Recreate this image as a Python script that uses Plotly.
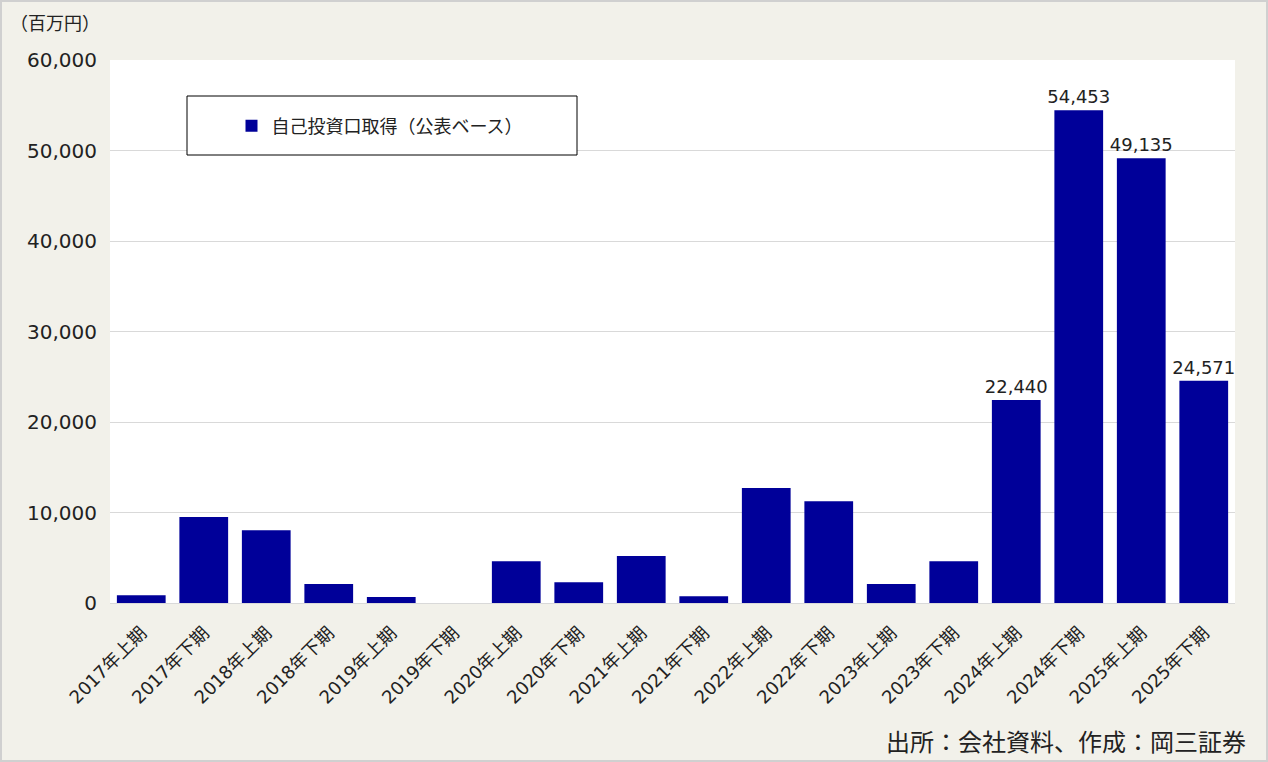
import plotly.graph_objects as go

categories = ["2017年上期", "2017年下期", "2018年上期", "2018年下期", "2019年上期", "2019年下期",
              "2020年上期", "2020年下期", "2021年上期", "2021年下期", "2022年上期", "2022年下期",
              "2023年上期", "2023年下期", "2024年上期", "2024年下期", "2025年上期", "2025年下期"]
values = [850, 9500, 8050, 2100, 650, 0,
          4600, 2300, 5200, 750, 12700, 11250,
          2100, 4600, 22440, 54453, 49135, 24571]
labeled = [False] * 14 + [True] * 4
series_name = "自己投資口取得（公表ベース）"
unit_label = "（百万円）"
source_text = "出所：会社資料、作成：岡三証券"

FONT = "Noto Sans CJK JP, Noto Sans, sans-serif"
NUMFONT = "DejaVu Sans, Noto Sans CJK JP, sans-serif"
W, H = 1268, 762
L, R, T, B = 110, 33, 60, 159
pw, ph = W - L - R, H - T - B

def px_x(x):
    return (x - L) / pw

def px_y(y):
    return (H - B - y) / ph

texts = [f"{v:,}" if s else "" for v, s in zip(values, labeled)]

fig = go.Figure()
fig.add_trace(go.Bar(
    x=categories, y=values, name=series_name,
    marker=dict(color="#000099", line=dict(width=0)),
    text=texts, textposition="outside", cliponaxis=False, constraintext="none",
    textfont=dict(size=18, color="#222222", family=NUMFONT),
    showlegend=True,
))

fig.update_layout(
    width=W, height=H,
    margin=dict(l=L, r=R, t=T, b=B, autoexpand=False),
    paper_bgcolor="#f2f1ea",
    plot_bgcolor="#ffffff",
    font=dict(family=FONT, color="#222222"),
    bargap=0.22,
    xaxis=dict(
        type="category", tickangle=-45, tickfont=dict(size=18, color="#222222", family=NUMFONT),
        showgrid=False, showline=False, ticks="", ticklen=0, ticklabelstandoff=15,
    ),
    yaxis=dict(
        range=[0, 60000], dtick=10000, tickformat=",",
        tickfont=dict(size=20, color="#222222", family=NUMFONT),
        showgrid=True, gridcolor="#d9d9d9", gridwidth=1,
        zeroline=True, zerolinecolor="#d9d9d9", zerolinewidth=1,
        showline=False, ticks="", ticklabelstandoff=12,
    ),
    showlegend=True,
    legend=dict(
        x=px_x(380), y=px_y(126), xanchor="center", yanchor="middle",
        bgcolor="rgba(0,0,0,0)", borderwidth=0,
        font=dict(size=18, color="#222222", family=FONT),
        itemwidth=30,
    ),
    shapes=[
        dict(type="rect", xref="paper", yref="paper",
             x0=px_x(187), x1=px_x(577), y0=px_y(155), y1=px_y(96),
             line=dict(color="#000000", width=1), fillcolor="#ffffff", layer="above"),
        dict(type="rect", xref="paper", yref="paper",
             x0=px_x(1), x1=px_x(W - 1), y0=px_y(H - 1), y1=px_y(1),
             line=dict(color="#d0d0d0", width=2), fillcolor="rgba(0,0,0,0)", layer="above"),
    ],
    annotations=[
        dict(text=unit_label, xref="paper", yref="paper", x=px_x(8), y=px_y(22),
             xanchor="left", yanchor="middle", showarrow=False,
             font=dict(size=18, color="#222222", family=FONT)),
        dict(text=source_text, xref="paper", yref="paper", x=px_x(1248), y=px_y(740),
             xanchor="right", yanchor="middle", showarrow=False,
             font=dict(size=24, color="#222222", family=FONT)),
    ],
)

fig.write_html("out.html", config={"displayModeBar": False},
               post_script="document.body.style.margin='0';document.body.style.overflow='hidden';")
